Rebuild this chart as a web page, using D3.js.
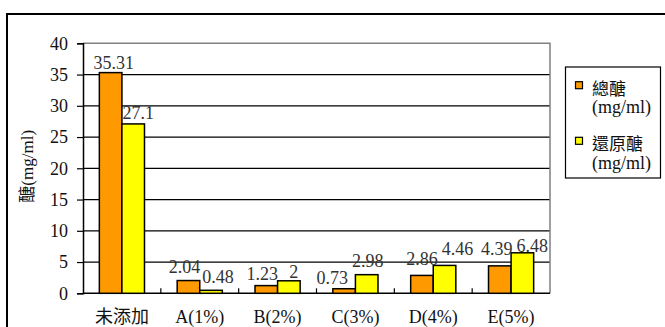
<!DOCTYPE html>
<html>
<head>
<meta charset="utf-8">
<script src="https://cdn.jsdelivr.net/npm/d3@7"></script>
<style>
  html, body { margin: 0; padding: 0; background: #fff; }
  svg { display: block; }
</style>
</head>
<body>
<svg id="chart" width="665" height="327"></svg>
<script>
// Sugar content by additive level
const categories = ["未添加", "A(1%)", "B(2%)", "C(3%)", "D(4%)", "E(5%)"];
const seriesNames = ["總醣", "還原醣"];
const seriesUnit = "(mg/ml)";
const totalSugar = [35.31, 2.04, 1.23, 0.73, 2.86, 4.39];
const reducingSugar = [27.1, 0.48, 2, 2.98, 4.46, 6.48];
const yTicks = [0, 5, 10, 15, 20, 25, 30, 35, 40];
const yTitle = "醣(mg/ml)";

const colors = ["#FF9900", "#FFFF00"];
const serif = "'Liberation Serif', 'Times New Roman', serif";
const cjk = "'Noto Sans CJK TC', 'Noto Sans CJK SC', sans-serif";
const mixed = "'Liberation Serif', 'Noto Sans CJK TC', serif";

const svg = d3.select("#chart");

// Outer chart frame
svg.append("rect")
  .attr("x", 7).attr("y", 14)
  .attr("width", 700).attr("height", 400)
  .attr("fill", "none").attr("stroke", "#000").attr("stroke-width", 2);

const plot = { left: 83, right: 550, top: 43.3, bottom: 293.3 };

const x0 = d3.scaleBand()
  .domain(categories)
  .range([plot.left, plot.right])
  .paddingInner(0.42)
  .paddingOuter(0.21);

const x1 = d3.scaleBand()
  .domain([0, 1])
  .range([0, x0.bandwidth()]);

const y = d3.scaleLinear()
  .domain([0, 40])
  .range([plot.bottom, plot.top]);

// Horizontal gridlines
svg.append("g")
  .selectAll("line")
  .data(yTicks.filter(t => t > 0 && t < 40))
  .join("line")
  .attr("x1", plot.left).attr("x2", plot.right)
  .attr("y1", d => y(d)).attr("y2", d => y(d))
  .attr("stroke", "#000").attr("stroke-width", 1.2);

// Plot area border (top and right in grey)
svg.append("path")
  .attr("d", `M${plot.left},${y(40)}H${plot.right}V${plot.bottom}`)
  .attr("fill", "none").attr("stroke", "#808080").attr("stroke-width", 1.5);

// Y axis
const yAxis = svg.append("g")
  .attr("transform", `translate(${plot.left},0)`)
  .call(d3.axisLeft(y).tickValues(yTicks).tickSize(6).tickPadding(9));
yAxis.select(".domain").attr("stroke", "#000").attr("stroke-width", 1.5);
yAxis.selectAll(".tick line").attr("stroke", "#000").attr("stroke-width", 1.2);
yAxis.selectAll(".tick text")
  .attr("font-family", serif).attr("font-size", 18).attr("fill", "#111");

// X axis with category boundary ticks pointing inward
const xAxisG = svg.append("g");
xAxisG.append("line")
  .attr("x1", plot.left).attr("x2", plot.right)
  .attr("y1", plot.bottom).attr("y2", plot.bottom)
  .attr("stroke", "#000").attr("stroke-width", 1.5);
const step = x0.step();
xAxisG.selectAll("line.boundary")
  .data(d3.range(1, categories.length))
  .join("line")
  .attr("class", "boundary")
  .attr("x1", i => plot.left + i * step).attr("x2", i => plot.left + i * step)
  .attr("y1", plot.bottom).attr("y2", plot.bottom - 5)
  .attr("stroke", "#000").attr("stroke-width", 1.2);
xAxisG.selectAll("text")
  .data(categories)
  .join("text")
  .attr("x", d => x0(d) + x0.bandwidth() / 2)
  .attr("y", 323)
  .attr("text-anchor", "middle")
  .attr("font-family", mixed).attr("font-size", 18).attr("fill", "#111")
  .text(d => d);

// Y axis title
svg.append("text")
  .attr("transform", `translate(27,${(plot.top + plot.bottom) / 2 - 2}) rotate(-90)`)
  .attr("text-anchor", "middle")
  .attr("dominant-baseline", "central")
  .attr("font-family", mixed).attr("font-size", 17).attr("fill", "#111")
  .text(yTitle);

// Bars
const rows = categories.map((c, i) => ({ cat: c, vals: [totalSugar[i], reducingSugar[i]] }));
const groups = svg.append("g").selectAll("g")
  .data(rows)
  .join("g")
  .attr("transform", d => `translate(${x0(d.cat)},0)`);

groups.selectAll("rect")
  .data(d => d.vals.map((v, s) => ({ v, s })))
  .join("rect")
  .attr("x", d => x1(d.s))
  .attr("y", d => y(d.v))
  .attr("width", x1.bandwidth())
  .attr("height", d => y(0) - y(d.v))
  .attr("fill", d => colors[d.s])
  .attr("stroke", "#000").attr("stroke-width", 1.5);

// Value labels, nudged sideways/upward so neighbouring labels stay legible
const labelNudge = [
  [[3, 4], [5, 5]],
  [[-4, 8], [7, 7]],
  [[-4, 6], [5, 3]],
  [[-12, 5], [1, 8]],
  [[0, 10], [13, 10]],
  [[-3, 11], [10, 1]]
];
groups.selectAll("text")
  .data((d, i) => d.vals.map((v, s) => ({ v, s, n: labelNudge[i][s] })))
  .join("text")
  .attr("x", d => x1(d.s) + x1.bandwidth() / 2 + d.n[0])
  .attr("y", d => y(d.v) - d.n[1])
  .attr("text-anchor", "middle")
  .attr("font-family", serif).attr("font-size", 18).attr("fill", "#333")
  .text(d => d.v);

// Legend
const legend = svg.append("g");
legend.append("rect")
  .attr("x", 565.5).attr("y", 67)
  .attr("width", 95).attr("height", 111)
  .attr("fill", "#fff").attr("stroke", "#000").attr("stroke-width", 1.2);

const legendRows = [0, 1].map(s => ({ name: seriesNames[s], color: colors[s], top: s === 0 ? 81.7 : 137.3 }));
const li = legend.selectAll("g.item")
  .data(legendRows)
  .join("g").attr("class", "item");
li.append("rect")
  .attr("x", 575.5).attr("y", d => d.top)
  .attr("width", 7).attr("height", 7)
  .attr("fill", d => d.color).attr("stroke", "#000").attr("stroke-width", 1.2);
li.append("text")
  .attr("x", 592).attr("y", d => d.top + 13)
  .attr("font-family", cjk).attr("font-size", 17).attr("fill", "#111")
  .text(d => d.name);
li.append("text")
  .attr("x", 592).attr("y", d => d.top + 31.5)
  .attr("font-family", serif).attr("font-size", 18).attr("fill", "#111")
  .text(seriesUnit);
</script>
</body>
</html>
